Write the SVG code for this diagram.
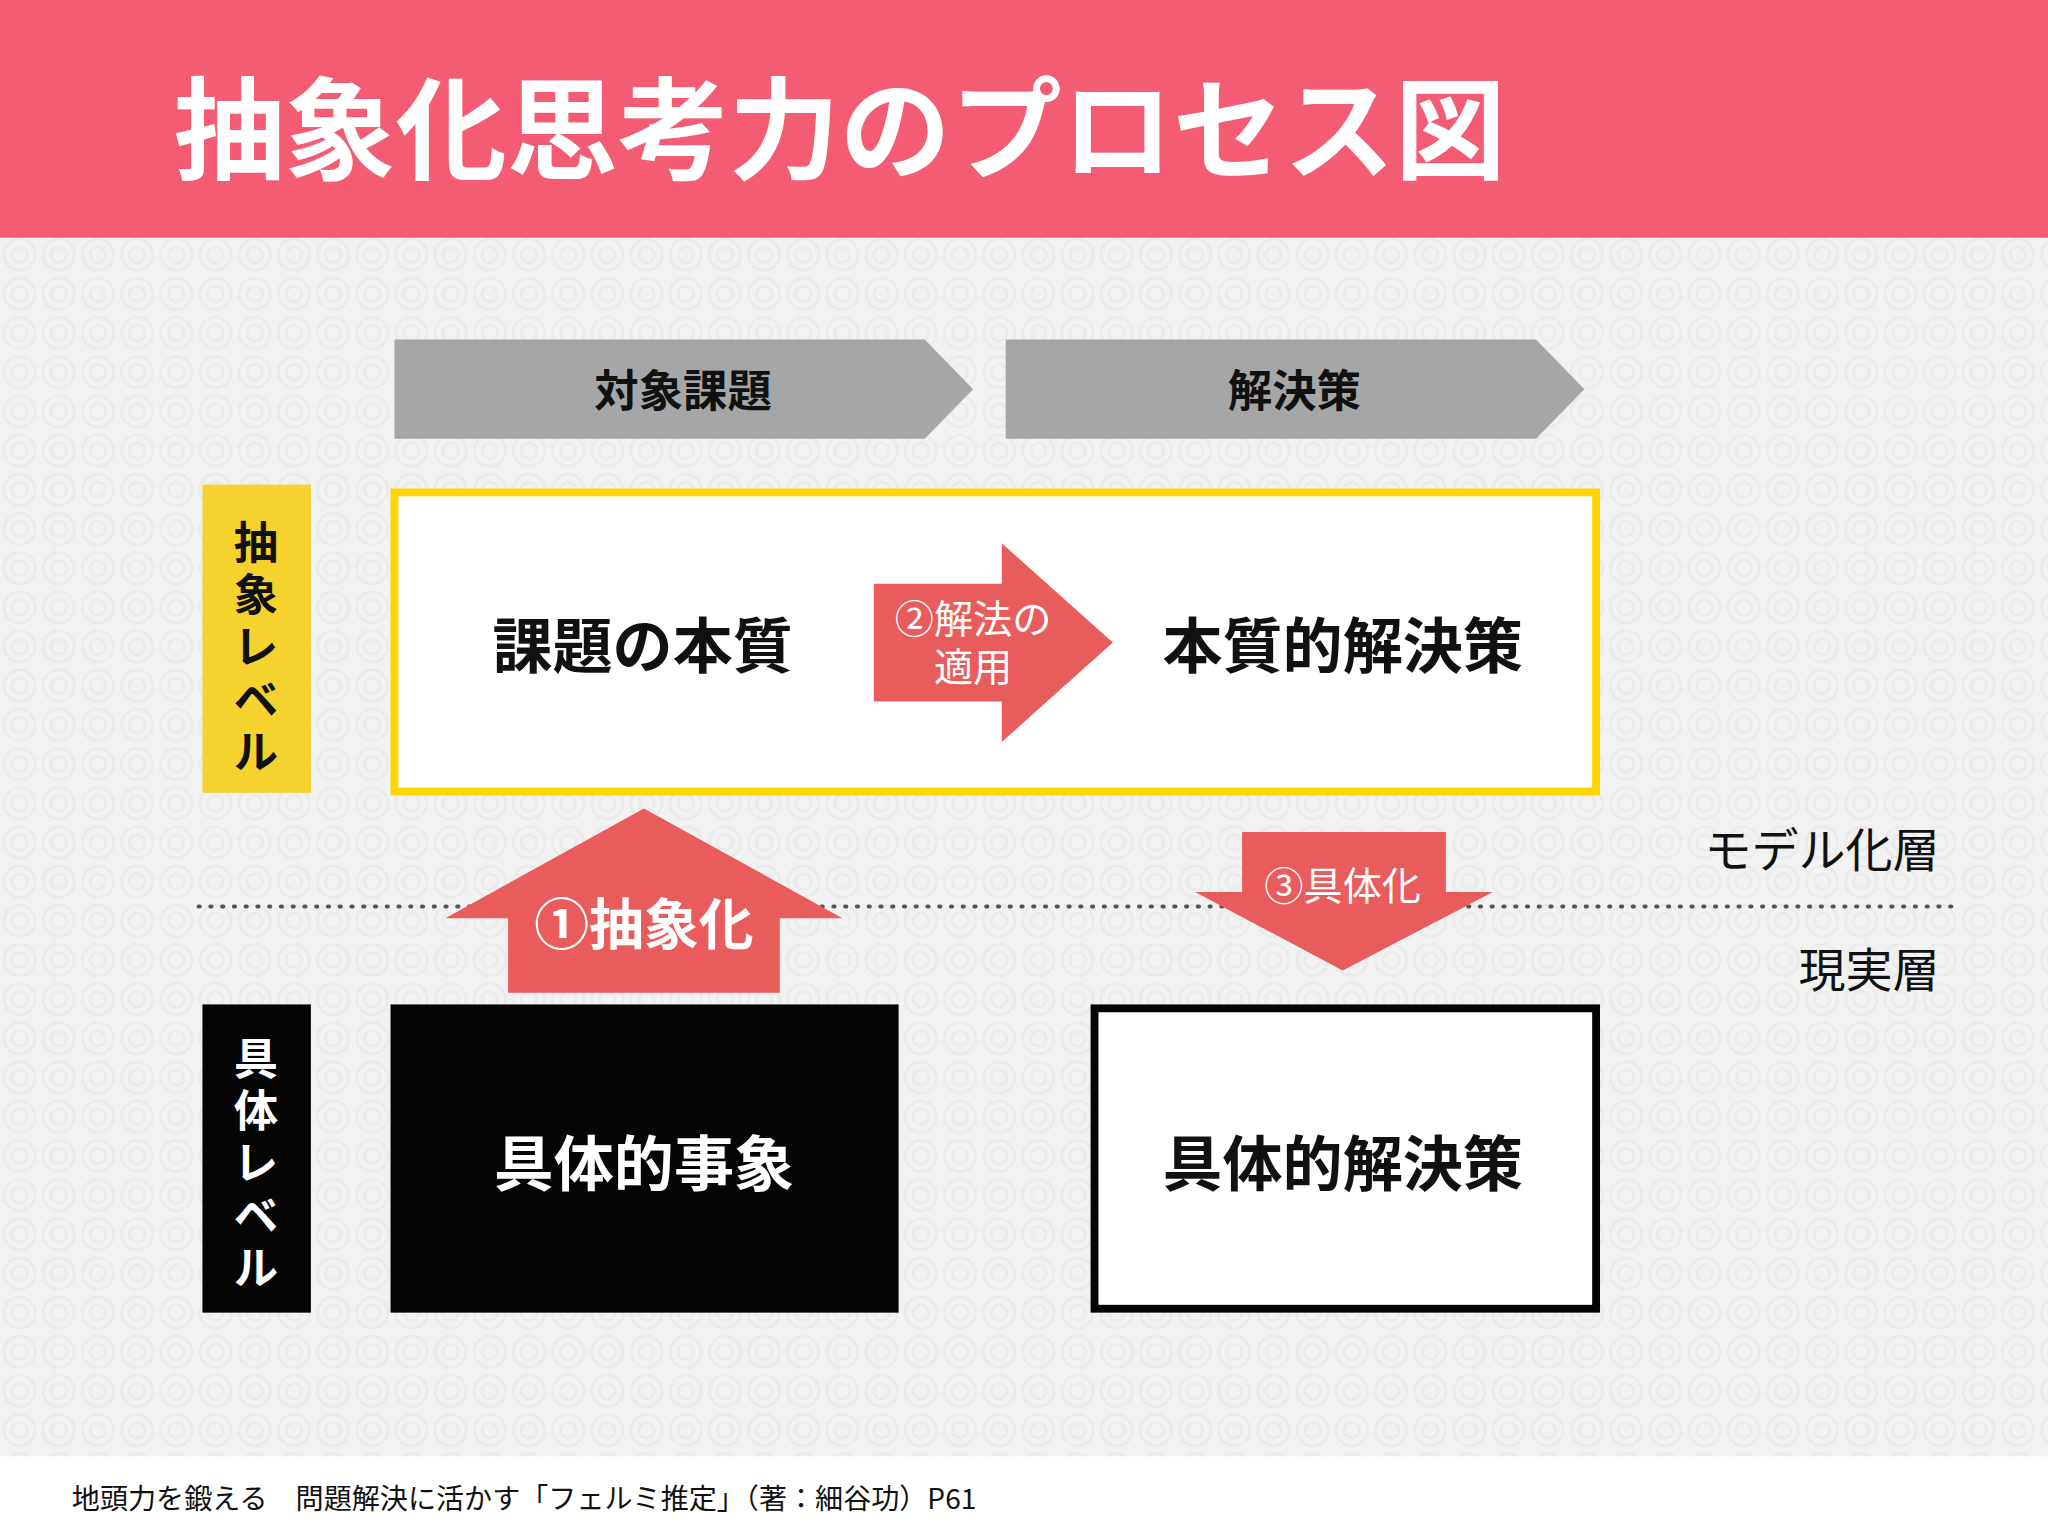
<svg xmlns="http://www.w3.org/2000/svg" width="2048" height="1536" viewBox="0 0 2048 1536">
<defs>
<pattern id="bgp" width="30" height="30" patternUnits="userSpaceOnUse">
<rect width="30" height="30" fill="#f2f2f2"/>
<circle cx="15" cy="15" r="12" fill="none" stroke="#eaeaea" stroke-width="2"/>
<circle cx="15" cy="15" r="6" fill="none" stroke="#eaeaea" stroke-width="2"/>
</pattern>
<style>
text{font-family:"Noto Sans CJK JP","Noto Sans",sans-serif;dominant-baseline:central;text-anchor:middle}
.b{font-weight:bold}
.w{fill:#fff}
.k{fill:#111}
.red{fill:#E85C5C}
</style>
</defs>
<g transform="scale(1.30612)">
<rect x="0" y="0" width="1568" height="1176" fill="url(#bgp)"/>
<rect x="0" y="0" width="1568" height="182" fill="#F45C74"/>
<text x="133" y="94" class="b w" font-size="85" style="text-anchor:start">抽象化思考力のプロセス図</text>
<rect x="0" y="1115" width="1568" height="61" fill="#fff"/>
<text x="55" y="1146" class="k" font-size="21.5" style="text-anchor:start">地頭力を鍛える　問題解決に活かす「フェルミ推定」（著：細谷功）P61</text>

<g id="header1"><polygon points="302,260 708,260 745,298 708,336 302,336" fill="#A5A6A8"/><text x="523" y="297" class="b k" font-size="34">対象課題</text></g>
<g id="header2"><polygon points="770,260 1176,260 1213,298 1176,336 770,336" fill="#A5A6A8"/><text x="991" y="297" class="b k" font-size="34">解決策</text></g>

<g id="abstract-label"><rect x="155" y="371" width="83" height="236" fill="#F5D22E"/>
<g class="b k" font-size="34"><text x="196" y="413">抽</text><text x="196" y="453">象</text><text x="196" y="493">レ</text><text x="196" y="533">ベ</text><text x="196" y="573">ル</text></g></g>

<g id="abstract-box"><rect x="302" y="377" width="920" height="229" fill="#fff" stroke="#FFD500" stroke-width="6"/>
<text x="492" y="491" class="b k" font-size="46">課題の本質</text>
<text x="1028" y="491" class="b k" font-size="46">本質的解決策</text></g>

<g id="connectors">
<g id="arrow2"><polygon points="669,447 767,447 767,416 852,492 767,568 767,537 669,537" class="red"/>
<text x="745" y="472" class="w" font-size="30">②解法の</text><text x="745" y="508" class="w" font-size="30">適用</text></g>
<line x1="152" y1="694" x2="1495" y2="694" stroke="#555" stroke-width="3" stroke-dasharray="1,8" stroke-linecap="round"/>
<g id="arrow1"><polygon points="389,760 389,703 341,703 493,619 645,703 597,703 597,760" class="red"/>
<text x="493" y="704" class="b w" font-size="42">①抽象化</text></g>
<g id="arrow3"><polygon points="951,637 1107,637 1107,683 1143,683 1028,743 915,683 951,683" class="red"/>
<text x="1028" y="676" class="w" font-size="30">③具体化</text></g>
</g>

<text x="1485" y="648" class="k" font-size="36" style="text-anchor:end">モデル化層</text>
<text x="1485" y="740" class="k" font-size="36" style="text-anchor:end">現実層</text>

<g id="concrete-label"><rect x="155" y="769" width="83" height="236" fill="#050505"/>
<g class="b w" font-size="34"><text x="196" y="808">具</text><text x="196" y="848">体</text><text x="196" y="888">レ</text><text x="196" y="928">ベ</text><text x="196" y="968">ル</text></g></g>

<g id="concrete-event"><rect x="299" y="769" width="389" height="236" fill="#050505"/><text x="493" y="888" class="b w" font-size="46">具体的事象</text></g>
<g id="concrete-solution"><rect x="838" y="772" width="384" height="230" fill="#fff" stroke="#050505" stroke-width="6"/><text x="1028" y="888" class="b k" font-size="46">具体的解決策</text></g>
</g>
</svg>
